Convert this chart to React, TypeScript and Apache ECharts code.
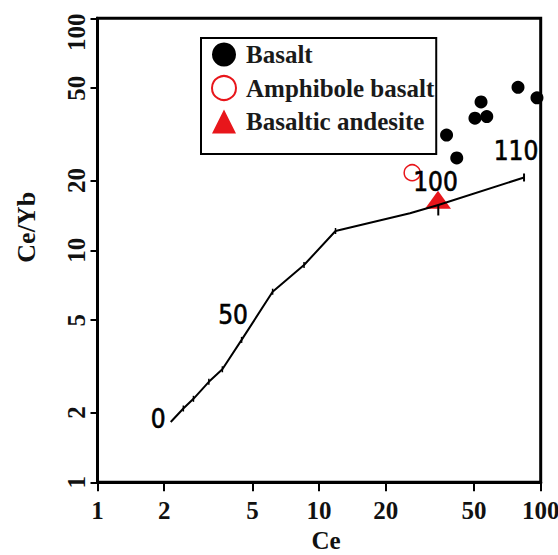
import React, { useEffect, useRef } from 'react';
import * as echarts from 'echarts';

const tickValues = [1, 2, 5, 10, 20, 50, 100];

const basaltCe = [79.0, 96.2, 53.8, 50.5, 57.1, 37.6, 41.8];
const basaltRatio = [50.4, 45.4, 43.6, 37.1, 37.7, 31.4, 25.0];

const amphCe = [26.3];
const amphRatio = [21.6];

const andesiteCe = [34.4];
const andesiteRatio = [16.5];

const curveCe = [2.14, 2.44, 2.71, 3.18, 3.66, 4.47, 6.17, 8.55, 11.86, 25.7, 34.5, 84.1];
const curveRatio = [1.82, 2.08, 2.29, 2.71, 3.07, 4.11, 6.63, 8.64, 12.11, 14.44, 15.68, 20.6];
const curveTick = ['none', 'small', 'small', 'small', 'small', 'small', 'small', 'small', 'small', 'none', 'long', 'end'];

const stageLabels = ['0', '50', '100', '110'];
const stageCe = [1.88, 4.09, 33.5, 77.4];
const stageRatio = [1.87, 5.26, 19.7, 26.9];

const serif = "'Liberation Serif', 'Times New Roman', serif";
const narrow = "'Liberation Sans Narrow', 'DejaVu Sans Condensed', 'Arial Narrow', sans-serif";
const RED = '#e8161b';

function buildOption() {
  const curveData = curveCe.map((x, i) => {
    const t = curveTick[i];
    const item: any = { value: [x, curveRatio[i]] };
    if (t === 'none') item.symbol = 'none';
    else if (t === 'small') { item.symbol = 'rect'; item.symbolSize = [1.5, 6]; }
    else if (t === 'long') { item.symbol = 'rect'; item.symbolSize = [2, 11]; item.symbolOffset = [0, 5]; }
    else { item.symbol = 'rect'; item.symbolSize = [2, 8]; }
    return item;
  });

  return {
    animation: false,
    backgroundColor: '#fff',
    grid: {
      left: 97.5, right: 17.3, top: 18.3, bottom: 72.7,
      outerBoundsMode: 'none', containLabel: false,
      show: true, borderColor: '#000', borderWidth: 3,
    },
    legend: {
      data: ['Basalt', 'Amphibole basalt', 'Basaltic andesite'],
      orient: 'vertical',
      left: 201, top: 38,
      itemWidth: 24, itemHeight: 24, itemGap: 8,
      padding: [4, 2, 20, 10],
      borderColor: '#000', borderWidth: 2,
      backgroundColor: '#fff',
      textStyle: { fontFamily: serif, fontWeight: 'bold', fontSize: 25, color: '#1a1a1a', padding: [0, 0, 0, 5] },
    },
    xAxis: {
      type: 'log', logBase: 10, min: 1, max: 100,
      name: 'Ce', nameLocation: 'middle', nameGap: 46,
      nameTextStyle: { fontFamily: serif, fontWeight: 'bold', fontSize: 25, color: '#111', padding: [0, 0, 0, 14] },
      axisLine: { show: true, lineStyle: { color: '#000', width: 3 } },
      axisTick: { show: true, inside: false, length: 9, customValues: tickValues, lineStyle: { color: '#000', width: 2 } },
      minorTick: { show: false },
      axisLabel: { customValues: tickValues, margin: 16, fontFamily: serif, fontWeight: 'bold', fontSize: 25, color: '#111' },
      splitLine: { show: false },
    },
    yAxis: {
      type: 'log', logBase: 10, min: 1, max: 100,
      name: 'Ce/Yb', nameLocation: 'middle', nameGap: 58,
      nameTextStyle: { fontFamily: serif, fontWeight: 'bold', fontSize: 26, color: '#111', padding: [0, 0, 0, 46] },
      axisLine: { show: true, lineStyle: { color: '#000', width: 3 } },
      axisTick: { show: true, inside: false, length: 7, customValues: tickValues, lineStyle: { color: '#000', width: 2 } },
      minorTick: { show: false },
      axisLabel: {
        customValues: tickValues, rotate: 90, margin: 9,
        fontFamily: serif, fontWeight: 'bold', fontSize: 25, color: '#111',
        formatter: (v: number) => (v >= 100 ? '{top|100}' : String(Math.round(v))),
        rich: { top: { fontFamily: serif, fontWeight: 'bold', fontSize: 25, color: '#111', padding: [0, 28, 0, 0] } },
      },
      splitLine: { show: false },
    },
    series: [
      {
        name: 'Basalt', type: 'scatter', symbol: 'circle', symbolSize: 13,
        itemStyle: { color: '#000', opacity: 1 },
        data: basaltCe.map((x, i) => [x, basaltRatio[i]]),
        z: 3,
      },
      {
        name: 'Amphibole basalt', type: 'scatter', symbol: 'circle', symbolSize: 16,
        itemStyle: { color: 'rgba(255,255,255,0)', borderColor: RED, borderWidth: 1.5, opacity: 1 },
        data: amphCe.map((x, i) => [x, amphRatio[i]]),
        z: 3,
      },
      {
        name: 'Basaltic andesite', type: 'scatter', symbol: 'triangle', symbolSize: [26, 18],
        itemStyle: { color: RED, opacity: 1 },
        data: andesiteCe.map((x, i) => [x, andesiteRatio[i]]),
        z: 3,
      },
      {
        name: 'curve', type: 'line',
        lineStyle: { color: '#000', width: 2 },
        itemStyle: { color: '#000', opacity: 1 },
        symbol: 'rect',
        data: curveData,
        z: 4,
      },
      {
        name: 'stages', type: 'scatter', symbol: 'circle', symbolSize: 1,
        itemStyle: { color: 'rgba(0,0,0,0)', opacity: 1 },
        label: {
          show: true, position: 'inside',
          formatter: (p: any) => p.name,
          fontFamily: narrow, fontSize: 26, color: '#000', opacity: 1,
          textBorderColor: '#000', textBorderWidth: 0.6,
        },
        data: stageLabels.map((n, i) => ({ name: n, value: [stageCe[i], stageRatio[i]] })),
        z: 5,
      },
    ],
  };
}

export default function App() {
  const ref = useRef<HTMLDivElement>(null);
  useEffect(() => {
    if (!ref.current) return;
    const chart = echarts.init(ref.current, null, { renderer: 'svg' });
    chart.setOption(buildOption() as any);
    return () => chart.dispose();
  }, []);
  return <div ref={ref} style={{ position: 'absolute', left: 0, top: 0, width: 558, height: 555 }} />;
}
